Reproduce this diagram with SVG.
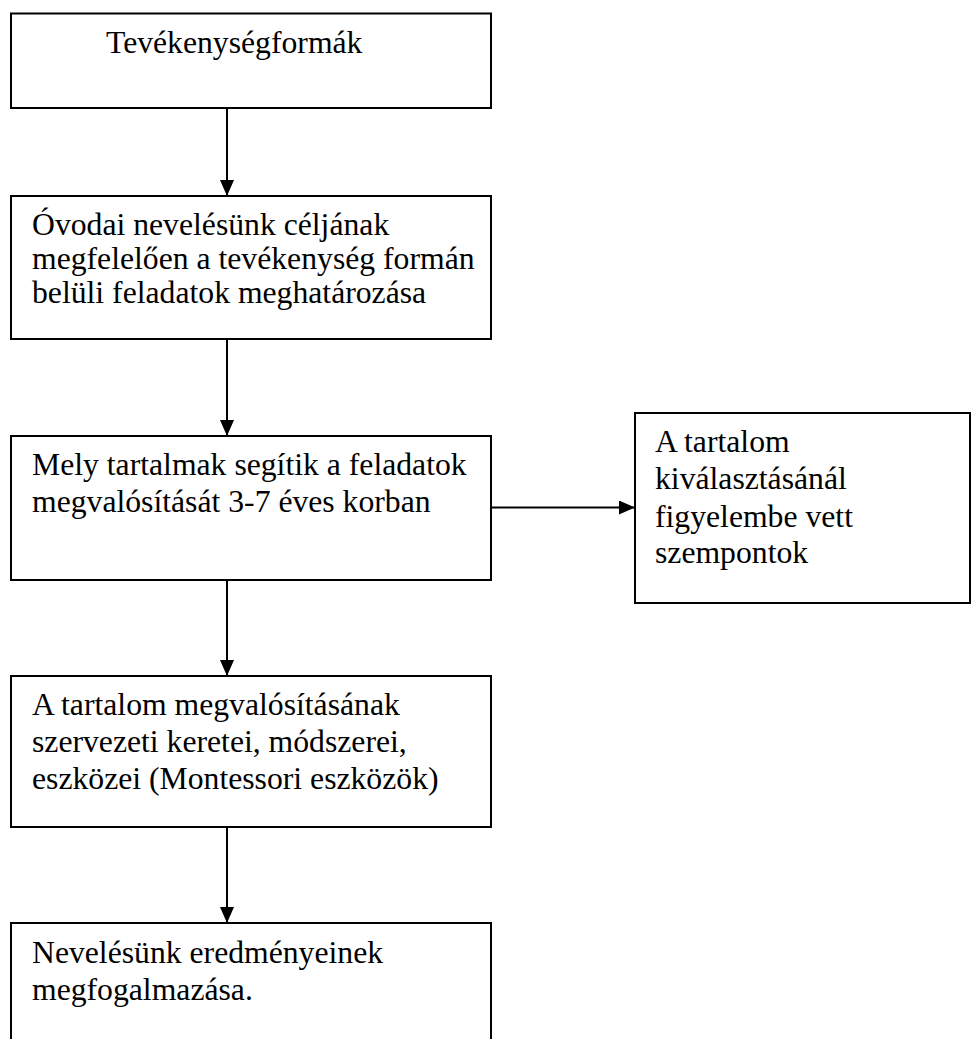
<svg xmlns="http://www.w3.org/2000/svg" width="971" height="1039" viewBox="0 0 971 1039">
<style>
.box{fill:#fff;stroke:#000;stroke-width:2}
.t{font-family:"Liberation Serif","Times New Roman",serif;font-size:31.7px;fill:#000}
.c{stroke:#000;stroke-width:2;fill:none}
</style>
<defs>
<marker id="ah" markerWidth="16" markerHeight="14" refX="16" refY="7" orient="auto" markerUnits="userSpaceOnUse">
<path d="M0,0 L16,7 L0,14 Z" fill="#000"/>
</marker>
</defs>
<rect width="971" height="1039" fill="#fff"/>
<g id="connectors">
<line class="c" x1="227" y1="102" x2="227" y2="196" marker-end="url(#ah)"/>
<line class="c" x1="227" y1="339" x2="227" y2="436" marker-end="url(#ah)"/>
<line class="c" x1="491" y1="507.5" x2="635" y2="507.5" marker-end="url(#ah)"/>
<line class="c" x1="227" y1="580" x2="227" y2="676" marker-end="url(#ah)"/>
<line class="c" x1="227" y1="827" x2="227" y2="923" marker-end="url(#ah)"/>
</g>
<g id="n1">
<rect class="box" x="11" y="13.5" width="480" height="94.5"/>
<text class="t" x="106" y="53">Tevékenységformák</text>
</g>
<g id="n2">
<rect class="box" x="11" y="196" width="480" height="143"/>
<text class="t" x="32" y="235">Óvodai nevelésünk céljának</text>
<text class="t" x="32" y="269">megfelelően a tevékenység formán</text>
<text class="t" x="32" y="303">belüli feladatok meghatározása</text>
</g>
<g id="n3">
<rect class="box" x="11" y="436" width="480" height="144"/>
<text class="t" x="32" y="475">Mely tartalmak segítik a feladatok</text>
<text class="t" x="32" y="512">megvalósítását 3-7 éves korban</text>
</g>
<g id="n4">
<rect class="box" x="635" y="413" width="335" height="190"/>
<text class="t" x="655" y="452">A tartalom</text>
<text class="t" x="655" y="489">kiválasztásánál</text>
<text class="t" x="655" y="526.5">figyelembe vett</text>
<text class="t" x="655" y="563">szempontok</text>
</g>
<g id="n5">
<rect class="box" x="11" y="676" width="480" height="151"/>
<text class="t" x="32" y="715">A tartalom megvalósításának</text>
<text class="t" x="32" y="752">szervezeti keretei, módszerei,</text>
<text class="t" x="32" y="788.5">eszközei (Montessori eszközök)</text>
</g>
<g id="n6">
<rect class="box" x="11" y="923" width="480" height="140"/>
<text class="t" x="32" y="963">Nevelésünk eredményeinek</text>
<text class="t" x="32" y="1000">megfogalmazása.</text>
</g>
</svg>
